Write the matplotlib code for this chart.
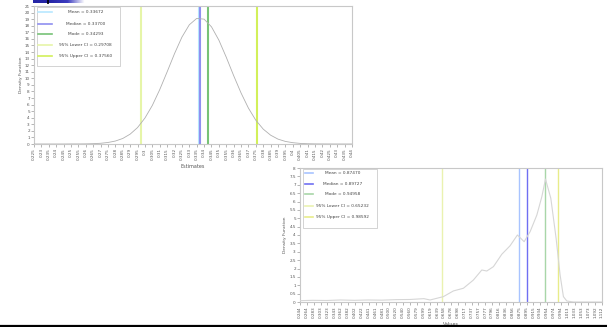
import numpy as np
import matplotlib
matplotlib.use('Agg')
import matplotlib.pyplot as plt
from matplotlib.colors import LinearSegmentedColormap
from matplotlib.patches import Rectangle

# Data
stat_names = ['Mean', 'Median', 'Mode', '95% Lower CI', '95% Upper CI']

top_x = [0.225, 0.23, 0.235, 0.24, 0.245, 0.25, 0.255, 0.26, 0.265, 0.27,
         0.275, 0.28, 0.285, 0.29, 0.295, 0.30, 0.305, 0.31, 0.315, 0.32,
         0.325, 0.33, 0.335, 0.34, 0.345, 0.35, 0.355, 0.36, 0.365, 0.37,
         0.375, 0.38, 0.385, 0.39, 0.395, 0.40, 0.405, 0.41, 0.415, 0.42,
         0.43, 0.44]
top_density = [0.0, 0.0, 0.0, 0.0, 0.0, 0.01, 0.01, 0.02, 0.05, 0.11,
               0.23, 0.45, 0.84, 1.50, 2.50, 3.95, 5.87, 8.27, 10.97, 13.75,
               16.26, 18.14, 19.11, 19.0, 17.83, 15.8, 13.2, 10.4, 7.76, 5.45,
               3.61, 2.26, 1.34, 0.74, 0.39, 0.20, 0.09, 0.04, 0.02, 0.01,
               0.0, 0.0]
top_stats = [0.33672, 0.33700, 0.34293, 0.29708, 0.37560]

bot_x = [0.244, 0.28, 0.32, 0.36, 0.40, 0.44, 0.48, 0.52, 0.56, 0.60,
         0.6178, 0.6561, 0.6848, 0.7136, 0.7423, 0.7665, 0.7809, 0.7999,
         0.8240, 0.8479, 0.8689, 0.8767, 0.8882, 0.9054, 0.9247, 0.9391,
         0.9496, 0.9649, 0.9801, 0.9916, 1.0011, 1.0109, 1.03, 1.06, 1.112]
bot_density = [0.08, 0.10, 0.09, 0.12, 0.10, 0.12, 0.11, 0.14, 0.15, 0.20,
               0.12, 0.32, 0.66, 0.82, 1.31, 1.91, 1.85, 2.11,
               2.85, 3.36, 4.0, 3.84, 3.6, 4.2, 5.19, 6.29,
               7.34, 6.19, 3.8, 1.61, 0.32, 0.06, 0.0, 0.0, 0.0]
bot_stats = [0.87470, 0.89727, 0.94958, 0.65232, 0.98592]

top_colors = ['#b8e8ff', '#8f8ff0', '#77c277', '#e6f5a8', '#d2f05a']
bot_colors = ['#a8c4ff', '#6f6ff2', '#a8d6a8', '#eaf2b0', '#e8ec8a']

TICK_COL = '#999999'
LABEL_COL = '#555555'


def style_axes(ax):
    for s in ax.spines.values():
        s.set_color('#c8c8c8')
        s.set_linewidth(0.8)
    ax.tick_params(length=2, width=0.5, color=TICK_COL, labelsize=3,
                   labelcolor=LABEL_COL, pad=1)
    ax.tick_params(axis='x', labelrotation=90)


def draw_legend(ax, values, colors, box, rows, hx, tx):
    x0, y0, x1, y1 = box
    ax.add_patch(Rectangle((x0, y0), x1 - x0, y1 - y0, transform=ax.transAxes,
                           facecolor='white', edgecolor='#cccccc',
                           linewidth=0.6, zorder=5))
    for name, val, col, y in zip(stat_names, values, colors, rows):
        ax.plot(hx, [y, y], color=col, linewidth=1.2,
                transform=ax.transAxes, zorder=6, clip_on=False)
        ax.text(tx, y, '{} = {:.5f}'.format(name, val), fontsize=3.1,
                color='#444444', ha='center', va='center',
                transform=ax.transAxes, zorder=6)


fig = plt.figure(figsize=(6.07, 3.27), dpi=100)

# Top chart
ax1 = fig.add_axes([34 / 607, 1 - 144 / 327, 318 / 607, 138 / 327])
ax1.plot(top_x, top_density, color='#b0b0b0', linewidth=0.6, zorder=3)
for v, c in zip(top_stats, top_colors):
    ax1.axvline(v, color=c, linewidth=1.5, zorder=2)
ax1.set_xlim(0.225, 0.44)
ax1.set_ylim(0, 21)
ax1.set_xticks(np.arange(0.225, 0.4401, 0.005))
ax1.set_xticklabels(['{:g}'.format(round(t, 3)) for t in np.arange(0.225, 0.4401, 0.005)])
ax1.set_yticks(range(0, 22))
style_axes(ax1)
ax1.set_xlabel('Estimates', fontsize=3.5, color=LABEL_COL, labelpad=3)
ax1.set_ylabel('Density Function', fontsize=3.2, color=LABEL_COL, labelpad=1.5)
draw_legend(ax1, top_stats, top_colors, (0.0094, 0.565, 0.270, 0.993),
            [0.953, 0.873, 0.797, 0.717, 0.638], [0.0126, 0.0566], 0.162)

# Bottom chart
ax2 = fig.add_axes([300 / 607, 1 - 302 / 327, 302 / 607, 134 / 327])
ax2.plot(bot_x, bot_density, color='#d6d6d6', linewidth=0.8, zorder=3)
for v, c in zip(bot_stats, bot_colors):
    ax2.axvline(v, color=c, linewidth=1.0, zorder=2)
ax2.set_xlim(0.244, 1.112)
ax2.set_ylim(0, 8)
bot_ticks = np.linspace(0.244, 1.112, 45)
ax2.set_xticks(bot_ticks)
ax2.set_xticklabels(['{:.3f}'.format(t) for t in bot_ticks])
ax2.set_yticks(np.arange(0, 8.01, 0.5))
ax2.set_yticklabels(['{:g}'.format(t) for t in np.arange(0, 8.01, 0.5)])
style_axes(ax2)
ax2.set_xlabel('Values', fontsize=3.5, color=LABEL_COL, labelpad=3)
ax2.set_ylabel('Density Function', fontsize=3.2, color=LABEL_COL, labelpad=1.5)
draw_legend(ax2, bot_stats, bot_colors, (0.0099, 0.552, 0.255, 0.995),
            [0.965, 0.881, 0.806, 0.719, 0.637], [0.0166, 0.043], 0.142)

# window banner fragment at the top left
bar = fig.add_axes([33 / 607, 1 - 3.5 / 327, 52 / 607, 3.5 / 327])
cmap = LinearSegmentedColormap.from_list('bar', ['#2626a6', '#2626a6', '#3c3cc0', '#ffffff'])
bar.imshow(np.linspace(0, 1, 60).reshape(1, -1), aspect='auto', cmap=cmap)
bar.axvline(17, color='black', linewidth=1.2)
bar.axis('off')

# dark border along the bottom
fig.add_artist(plt.Line2D([0, 1], [1.5 / 327, 1.5 / 327], color='black',
                          linewidth=1.6, transform=fig.transFigure))

fig.savefig('out.png', dpi=100)
